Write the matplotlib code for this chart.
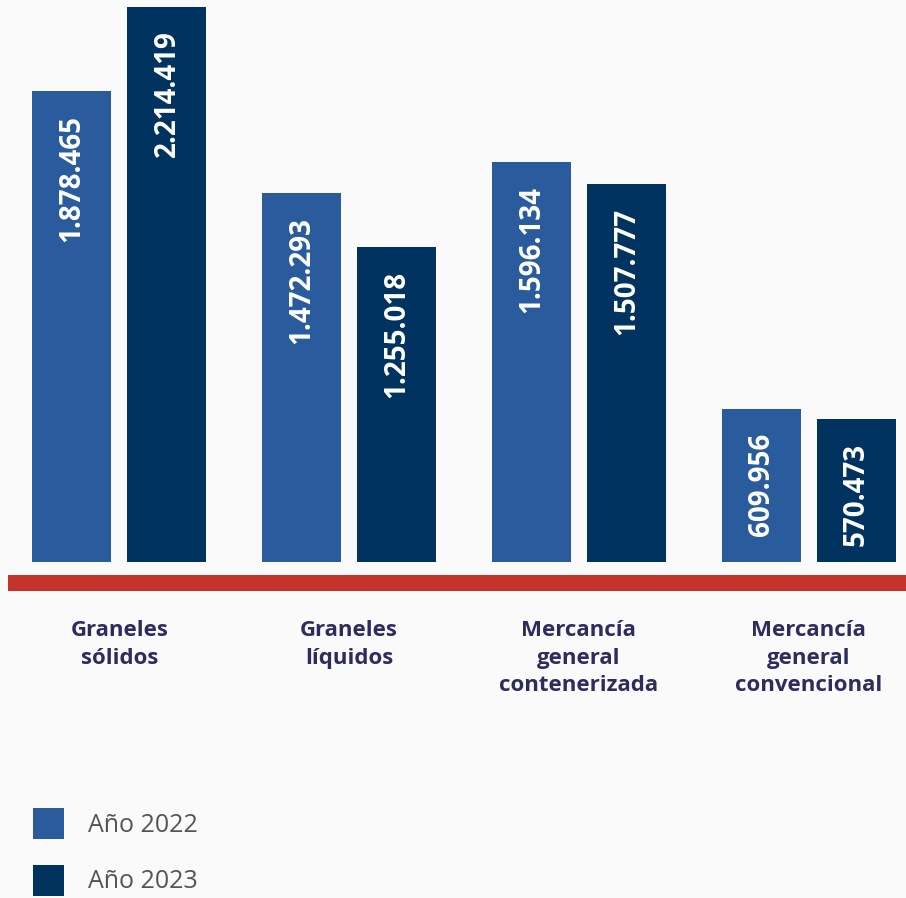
import numpy as np
import matplotlib.pyplot as plt
from matplotlib.patches import Rectangle

# data
categorias = ['Graneles\nsólidos', 'Graneles\nlíquidos',
              'Mercancía\ngeneral\ncontenerizada', 'Mercancía\ngeneral\nconvencional']
v2022 = [1878465, 1472293, 1596134, 609956]
v2023 = [2214419, 1255018, 1507777, 570473]
etiq2022 = ['1.878.465', '1.472.293', '1.596.134', '609.956']
etiq2023 = ['2.214.419', '1.255.018', '1.507.777', '570.473']
series = ['Año 2022', 'Año 2023']

c22 = '#2a5b9c'
c23 = '#00335f'
rojo = '#c4342d'
bg = '#fafafa'

plt.rcParams['font.family'] = ['Open Sans', 'DejaVu Sans']

W, H = 906, 898
fig = plt.figure(figsize=(W/100, H/100), dpi=100, facecolor=bg)
ax = fig.add_axes([0, (H-562)/H, 1, 562/H])
ax.set_facecolor(bg)

x = np.arange(len(categorias))
esp = 229.67           # px between groups
w = 79/esp             # bar width in data units
off = 47.5/esp
ax.bar(x-off, v2022, w, color=c22, zorder=2)
ax.bar(x+off, v2023, w, color=c23, zorder=2)

for xi, v, t in zip(x-off, v2022, etiq2022):
    ax.annotate(t, (xi, v), xytext=(0, -17), textcoords='offset points',
                rotation=90, ha='center', va='top', color='white',
                fontsize=20, fontweight='bold')
for xi, v, t in zip(x+off, v2023, etiq2023):
    ax.annotate(t, (xi, v), xytext=(0, -17), textcoords='offset points',
                rotation=90, ha='center', va='top', color='white',
                fontsize=20, fontweight='bold')

ax.set_xlim(-119.5/esp, 3 + (W-808.5)/esp)
ax.set_ylim(0, 2214419*562/555)
ax.axis('off')

# red base line
fig.add_artist(Rectangle((8/W, (H-591)/H), (W-8)/W, 16/H,
                         transform=fig.transFigure, color=rojo, lw=0))

# category labels
for xi, c in zip(x, categorias):
    ax.text(xi, -(620-562)/562, c, transform=ax.get_xaxis_transform(),
            ha='center', va='top', fontsize=16, fontweight='bold',
            color='#2e2c5e', linespacing=1.42)

# legend
for i, (s, col) in enumerate(zip(series, [c22, c23])):
    y0 = 808 + i*57
    fig.add_artist(Rectangle((33/W, (H-y0-31)/H), 31/W, 31/H,
                             transform=fig.transFigure, color=col, lw=0))
    fig.text(88/W, (H-y0-17)/H, s, ha='left', va='center',
             fontsize=18, color='#555555')

fig.savefig('out.png', dpi=100, facecolor=bg)
